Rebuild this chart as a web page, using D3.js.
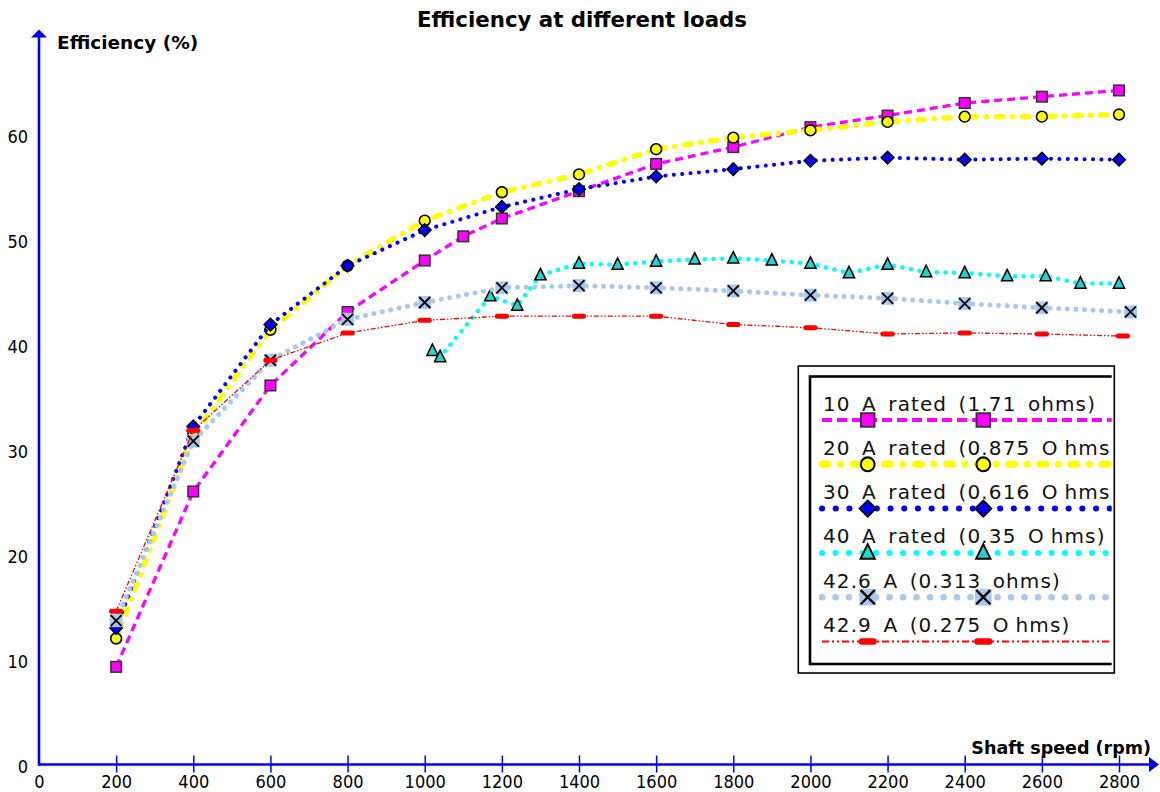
<!DOCTYPE html>
<html>
<head>
<meta charset="utf-8">
<script src="https://cdn.jsdelivr.net/npm/d3@7"></script>
<style>
  html, body { margin: 0; padding: 0; background: #fff; }
  svg { display: block; font-family: "DejaVu Sans", Verdana, sans-serif; }
  .tick text { font-family: "DejaVu Sans Condensed", "DejaVu Sans", sans-serif; font-stretch: condensed; }
</style>
</head>
<body>
<svg id="chart" width="1160" height="792"></svg>
<script>
// Axis ticks
const xTicks = [0, 200, 400, 600, 800, 1000, 1200, 1400, 1600, 1800, 2000, 2200, 2400, 2600, 2800];
const yTicks = [0, 10, 20, 30, 40, 50, 60];

// Series labels (legend order)
const seriesNames = [
  "10 A rated (1.71 ohms)",
  "20 A rated (0.875 Ohms)",
  "30 A rated (0.616 Ohms)",
  "40 A rated (0.35 Ohms)",
  "42.6 A (0.313 ohms)",
  "42.9 A (0.275 Ohms)"
];

// Shaft speed (rpm) and efficiency (%) per load
const rpm10 = [200, 400, 600, 800, 1000, 1100, 1200, 1400, 1600, 1800, 2000, 2200, 2400, 2600, 2800];
const eff10 = [9.3, 26.0, 36.1, 43.1, 48.0, 50.3, 52.0, 54.6, 57.2, 58.8, 60.7, 61.8, 63.0, 63.6, 64.2];

const rpm20 = [200, 400, 600, 800, 1000, 1200, 1400, 1600, 1800, 2000, 2200, 2400, 2600, 2800];
const eff20 = [12.0, 31.4, 41.4, 47.5, 51.8, 54.5, 56.2, 58.6, 59.7, 60.4, 61.2, 61.7, 61.7, 61.9];

const rpm30 = [200, 400, 600, 800, 1000, 1200, 1400, 1600, 1800, 2000, 2200, 2400, 2600, 2800];
const eff30 = [13.0, 32.2, 41.9, 47.5, 50.9, 53.1, 54.8, 56.0, 56.7, 57.5, 57.8, 57.6, 57.7, 57.6];

const rpm40 = [1020, 1040, 1170, 1240, 1300, 1400, 1500, 1600, 1700, 1800, 1900, 2000, 2100, 2200, 2300, 2400, 2510, 2610, 2700, 2800];
const eff40 = [39.4, 38.8, 44.6, 43.7, 46.6, 47.7, 47.6, 47.9, 48.1, 48.2, 48.0, 47.7, 46.8, 47.6, 46.9, 46.8, 46.5, 46.5, 45.8, 45.8];

const rpm426 = [200, 400, 600, 800, 1000, 1200, 1400, 1600, 1800, 2000, 2200, 2400, 2600, 2830];
const eff426 = [13.7, 30.8, 38.5, 42.4, 44.0, 45.4, 45.6, 45.4, 45.1, 44.7, 44.4, 43.9, 43.5, 43.1];

const rpm429 = [200, 400, 600, 800, 1000, 1200, 1400, 1600, 1800, 2000, 2200, 2400, 2600, 2810];
const eff429 = [14.6, 31.8, 38.5, 41.1, 42.3, 42.7, 42.7, 42.7, 41.9, 41.6, 41.0, 41.1, 41.0, 40.8];

// ---- drawing ----
const svg = d3.select("#chart");
const AXIS = "#0000ff";

const x = d3.scaleLinear().domain([0, 2800]).range([39, 1119]);
const y = d3.scaleLinear().domain([0, 60]).range([764.5, 134.5]);

// line / marker styles per series
const styles = [
  { color: "#ff00ff", width: 3.3, dash: "8 5", cap: "butt", marker: "square",
    lw: 4, ldash: "10 5", lcap: "butt" },
  { color: "#ffff00", width: 5.5, dash: "6 10 0.1 10", cap: "round", marker: "circle",
    lw: 7, ldash: "6 12.5 0.1 12.5", lcap: "round" },
  { color: "#0000ff", width: 4, dash: "0.1 8.3", cap: "round", marker: "diamond",
    lw: 6, ldash: "0.1 13.6", lcap: "round" },
  { color: "#00ffff", width: 4.5, dash: "0.1 8.6", cap: "round", marker: "triangle",
    lw: 6, ldash: "0.1 13.4", lcap: "round" },
  { color: "#a8c8ec", width: 5, dash: "0.1 8.5", cap: "round", marker: "cross",
    lw: 6.5, ldash: "0.1 13.4", lcap: "round" },
  { color: "#ff0000", width: 1.3, dash: "5 2 1.5 2 1.5 2", cap: "butt", marker: "bar",
    lw: 2, ldash: "7 3 2 3 2 3", lcap: "butt" }
];

const series = [
  { rpm: rpm10, eff: eff10 },
  { rpm: rpm20, eff: eff20 },
  { rpm: rpm30, eff: eff30 },
  { rpm: rpm40, eff: eff40 },
  { rpm: rpm426, eff: eff426 },
  { rpm: rpm429, eff: eff429 }
].map((s, i) => ({
  name: seriesNames[i],
  style: styles[i],
  points: s.rpm.map((r, j) => ({ rpm: r, eff: s.eff[j] }))
}));

// marker painter: draws a symbol centred on (cx, cy) with scale k
function drawMarker(g, type, cx, cy, k) {
  const m = g.append("g").attr("transform", `translate(${cx},${cy}) scale(${k})`);
  if (type === "square") {
    m.append("rect").attr("x", -5.3).attr("y", -5.3).attr("width", 10.6).attr("height", 10.6)
      .attr("fill", "#ff00ff").attr("stroke", "#333").attr("stroke-width", 1.5);
  } else if (type === "circle") {
    m.append("circle").attr("r", 5.4)
      .attr("fill", "#ffff00").attr("stroke", "#000").attr("stroke-width", 1.6);
  } else if (type === "diamond") {
    m.append("path").attr("d", "M0,-6.3L6.3,0L0,6.3L-6.3,0Z")
      .attr("fill", "#0000ff").attr("stroke", "#000").attr("stroke-width", 1.5);
  } else if (type === "triangle") {
    m.append("path").attr("d", "M0,-6.8L5.6,4.6L-5.6,4.6Z")
      .attr("fill", "#22d3d3").attr("stroke", "#000").attr("stroke-width", 1.5)
      .attr("stroke-linejoin", "miter");
  } else if (type === "cross") {
    m.append("rect").attr("x", -6.5).attr("y", -6.5).attr("width", 13).attr("height", 13)
      .attr("fill", "#a8c8ec");
    m.append("path").attr("d", "M-5.5,-5.5L5.5,5.5M5.5,-5.5L-5.5,5.5")
      .attr("stroke", "#000").attr("stroke-width", 1.8).attr("fill", "none");
  } else if (type === "bar") {
    m.append("line").attr("x1", -4.6).attr("x2", 4.6).attr("y1", 0).attr("y2", 0)
      .attr("stroke", "#ff0000").attr("stroke-width", 5).attr("stroke-linecap", "round");
  }
}

// ---- axes ----
const gx = svg.append("g").attr("transform", `translate(0,${y(0)})`)
  .call(d3.axisBottom(x).tickValues(xTicks).tickSize(8).tickFormat(d3.format("d")));
gx.select(".domain").remove();
gx.selectAll(".tick line")
  .attr("y1", -9).attr("y2", 8)
  .attr("stroke", AXIS).attr("stroke-width", 1.5)
  .filter(d => d === 0).remove();
gx.selectAll(".tick text")
  .attr("y", 23.5).attr("dy", null)
  .attr("fill", "#000").attr("font-size", 18);

const gy = svg.append("g").attr("transform", `translate(${x(0)},0)`)
  .call(d3.axisLeft(y).tickValues(yTicks).tickSize(0).tickPadding(11).tickFormat(d3.format("d")));
gy.select(".domain").remove();
gy.selectAll(".tick text")
  .attr("dy", "0.42em")
  .attr("fill", "#000").attr("font-size", 18);

// axis lines with arrow heads
svg.append("line")
  .attr("x1", x(0)).attr("x2", 1151).attr("y1", y(0)).attr("y2", y(0))
  .attr("stroke", AXIS).attr("stroke-width", 2.6);
svg.append("path")
  .attr("d", `M1149,${y(0) - 7.5}L1159,${y(0)}L1149,${y(0) + 7.5}Z`)
  .attr("fill", AXIS);
svg.append("line")
  .attr("x1", x(0)).attr("x2", x(0)).attr("y1", y(0) + 1.3).attr("y2", 37)
  .attr("stroke", AXIS).attr("stroke-width", 2.6);
svg.append("path")
  .attr("d", `M${x(0) - 8},37.5L${x(0)},29.5L${x(0) + 8},37.5Z`)
  .attr("fill", AXIS);

// titles
svg.append("text")
  .attr("x", 582).attr("y", 27).attr("text-anchor", "middle")
  .attr("font-weight", "bold").attr("font-size", 21.3).attr("fill", "#000")
  .text("Efficiency at different loads");
svg.append("text")
  .attr("x", 57).attr("y", 49)
  .attr("font-weight", "bold").attr("font-size", 18.5).attr("fill", "#000")
  .text("Efficiency (%)");
svg.append("text")
  .attr("x", 1151).attr("y", 754).attr("text-anchor", "end")
  .attr("font-weight", "bold").attr("font-size", 17.5).attr("fill", "#000")
  .text("Shaft speed (rpm)");

// ---- series ----
const line = d3.line().x(d => x(d.rpm)).y(d => y(d.eff));
const plot = svg.append("g");
series.forEach(s => {
  const g = plot.append("g");
  g.append("path")
    .datum(s.points)
    .attr("d", line)
    .attr("fill", "none")
    .attr("stroke", s.style.color)
    .attr("stroke-width", s.style.width)
    .attr("stroke-dasharray", s.style.dash)
    .attr("stroke-linecap", s.style.cap)
    .attr("stroke-linejoin", "round");
  s.points.forEach(p => drawMarker(g, s.style.marker, x(p.rpm), y(p.eff), 1));
});

// ---- legend ----
const defs = svg.append("defs");
defs.append("clipPath").attr("id", "legend-clip")
  .append("rect").attr("x", 798).attr("y", 360).attr("width", 313.7).attr("height", 320);

const lg = svg.append("g");
lg.append("rect")
  .attr("x", 798.3).attr("y", 366).attr("width", 316).attr("height", 307)
  .attr("fill", "#fff").attr("stroke", "#000").attr("stroke-width", 1.6);

const inner = lg.append("g").attr("clip-path", "url(#legend-clip)");
inner.append("rect")
  .attr("x", 810).attr("y", 376.5).attr("width", 340).attr("height", 287.5)
  .attr("fill", "#fff").attr("stroke", "#000").attr("stroke-width", 2.6);

series.forEach((s, i) => {
  const ty = 410.5 + i * 44.3;
  const ly = 420 + i * 44.3;
  const t = inner.append("text")
    .attr("x", 823).attr("y", ty)
    .attr("font-size", 20).attr("fill", "#111")
    .attr("letter-spacing", "1.1px").attr("word-spacing", "4px");
  // the capital O of "Ohms" is set with extra room after it
  const k = s.name.indexOf("Ohms");
  if (k >= 0) {
    t.append("tspan").text(s.name.slice(0, k + 1));
    t.append("tspan").attr("dx", 6).text(s.name.slice(k + 1));
  } else {
    t.text(s.name);
  }
  inner.append("line")
    .attr("x1", 822).attr("x2", 1130).attr("y1", ly).attr("y2", ly)
    .attr("stroke", s.style.color)
    .attr("stroke-width", s.style.lw)
    .attr("stroke-dasharray", s.style.ldash)
    .attr("stroke-linecap", s.style.lcap);
  drawMarker(inner, s.style.marker, 867.7, ly, 1.28);
  drawMarker(inner, s.style.marker, 983.3, ly, 1.28);
});
</script>
</body>
</html>
